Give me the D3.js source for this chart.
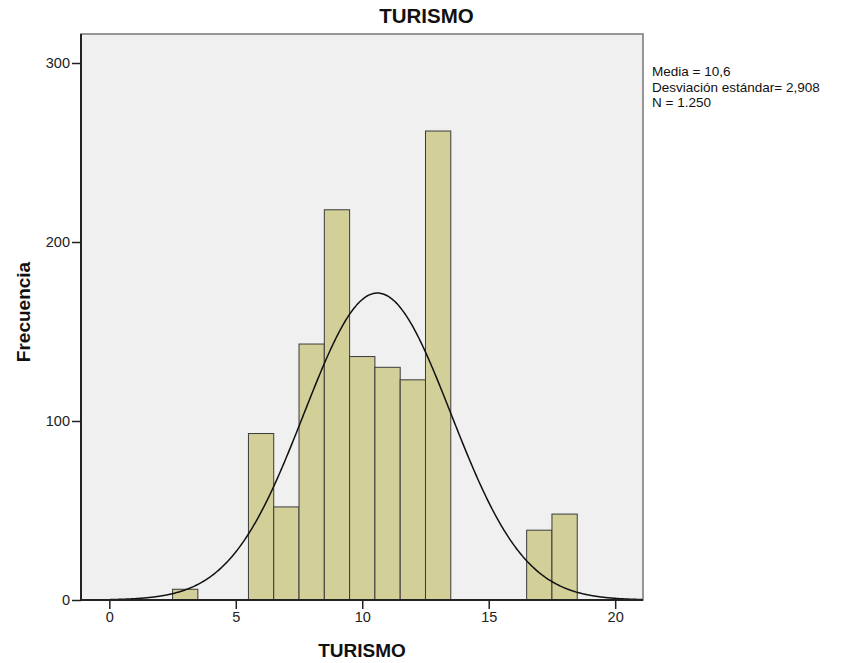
<!DOCTYPE html>
<html><head><meta charset="utf-8">
<script src="https://cdn.jsdelivr.net/npm/d3@7"></script>
<style>body{margin:0;background:#fff}svg{display:block;font-family:"Liberation Sans",Arial,sans-serif}</style>
</head><body><svg id="c" width="843" height="663"></svg>
<script>
const binStarts = [2.5, 5.5, 6.5, 7.5, 8.5, 9.5, 10.5, 11.5, 12.5, 16.5, 17.5];
const binCounts = [6, 93, 52, 143, 218, 136, 130, 123, 262, 39, 48];
const binWidth = 1;
const xTicks = [0, 5, 10, 15, 20];
const yTicks = [0, 100, 200, 300];
const statMean = 10.6, statSd = 2.908, statN = 1250;
const statLines = ["Media = 10,6", "Desviación estándar= 2,908", "N = 1.250"];

const svg = d3.select("#c");
const L = 81, R = 643, T = 34, B = 600;
const x = d3.scaleLinear().domain([-1.12, 21.1]).range([L, R]);
const y = d3.scaleLinear().domain([0, 300]).range([B, B - 537]);

svg.append("rect").attr("x", L).attr("y", T).attr("width", R - L).attr("height", B - T).attr("fill", "#f0f0f0");

const g = svg.append("g");
g.selectAll("rect.bar").data(binStarts).join("rect").attr("class", "bar")
  .attr("x", d => x(d)).attr("width", d => x(d + binWidth) - x(d))
  .attr("y", (d, i) => y(binCounts[i])).attr("height", (d, i) => y(0) - y(binCounts[i]))
  .attr("fill", "#d3cf98").attr("stroke", "#3a3a3a").attr("stroke-width", 1);

// fitted normal curve from summary stats
const pts = d3.range(0, 501).map(i => {
  const v = -1.12 + i * (22.22 / 500);
  const z = (v - statMean) / statSd;
  return [v, statN * binWidth * Math.exp(-0.5 * z * z) / (statSd * Math.sqrt(2 * Math.PI))];
}).filter(p => p[0] >= 0);
svg.append("path").datum(pts)
  .attr("d", d3.line().x(d => x(d[0])).y(d => y(d[1])).curve(d3.curveBasis))
  .attr("fill", "none").attr("stroke", "#111").attr("stroke-width", 1.5);

// frame
svg.append("rect").attr("x", L).attr("y", T).attr("width", R - L).attr("height", B - T)
  .attr("fill", "none").attr("stroke", "#777").attr("stroke-width", 1.5);

const xa = svg.append("g").attr("transform", `translate(0,${B})`)
  .call(d3.axisBottom(x).tickValues(xTicks).tickSize(9).tickPadding(3).tickFormat(d3.format("d")));
xa.select(".domain").attr("d", `M${L},0H${R}`).attr("stroke", "#222").attr("stroke-width", 2);
xa.selectAll(".tick line").attr("stroke", "#222").attr("stroke-width", 1.5);
xa.selectAll("text").attr("font-size", 14.5).attr("fill", "#222").attr("font-family", "Liberation Sans, Arial, sans-serif");

const ya = svg.append("g").attr("transform", `translate(${L},0)`)
  .call(d3.axisLeft(y).tickValues(yTicks).tickSize(9).tickPadding(2).tickFormat(d3.format("d")));
ya.select(".domain").attr("d", `M0,${T}V${B}`).attr("stroke", "#222").attr("stroke-width", 2);
ya.selectAll(".tick line").attr("stroke", "#222").attr("stroke-width", 1.5);
ya.selectAll("text").attr("font-size", 14.5).attr("fill", "#222").attr("font-family", "Liberation Sans, Arial, sans-serif");

svg.append("text").attr("x", 426.5).attr("y", 23).attr("text-anchor", "middle")
  .attr("font-size", 20.5).attr("font-weight", "bold").attr("fill", "#111").text("TURISMO");
svg.append("text").attr("x", 362).attr("y", 657).attr("text-anchor", "middle")
  .attr("font-size", 19).attr("font-weight", "bold").attr("fill", "#111").text("TURISMO");
svg.append("text").attr("transform", "translate(30,312) rotate(-90)").attr("text-anchor", "middle")
  .attr("font-size", 19).attr("font-weight", "bold").attr("fill", "#111").text("Frecuencia");

svg.append("g").selectAll("text").data(statLines).join("text")
  .attr("x", 652).attr("y", (d, i) => 76 + i * 15.5)
  .attr("font-size", 13.5).attr("fill", "#111").text(d => d);
</script></body></html>
